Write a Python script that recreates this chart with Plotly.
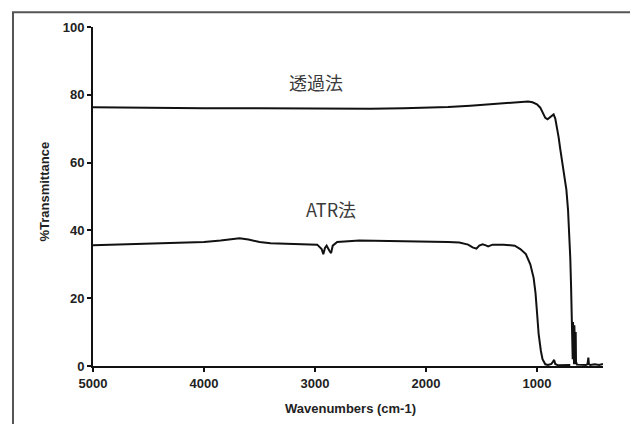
import plotly.graph_objects as go

# 透過法 (transmission) spectrum: wavenumber (cm-1) and %T
trans_wn = [5000, 4800, 4500, 4000, 3500, 3000, 2500, 2200, 2000, 1800, 1600, 1400, 1250, 1150,
            1080, 1040, 1000, 970, 945, 925, 905, 885, 865, 850, 835, 820, 805, 790, 770, 750,
            735, 720, 710, 700, 693, 686, 681, 678, 675, 672, 669, 666, 663, 660, 657, 654, 651,
            648, 645, 640, 600, 560, 545, 537, 532, 520, 480, 440, 405]
trans_t = [76.3, 76.2, 76.1, 76.0, 76.0, 75.9, 75.9, 76.0, 76.1, 76.4, 76.8, 77.3, 77.7, 77.9,
           78.0, 77.8, 77.2, 76.2, 74.5, 73.2, 72.8, 73.3, 74.0, 74.2, 73.0, 70.5, 67.5, 64.0, 60.0, 56.0,
           52.0, 46.0, 40.0, 32.0, 24.0, 16.0, 12.5, 2.0, 13.0, 1.0, 12.5, 0.5, 12.0, 0.5, 11.5, 0.5, 10.0,
           0.5, 1.0, 0.4, 0.3, 0.3, 0.5, 2.5, 0.6, 0.3, 0.5, 0.3, 0.6]

# ATR法 spectrum
atr_wn = [5000, 4800, 4600, 4400, 4200, 4000, 3850, 3750, 3680, 3600, 3500, 3400, 3200, 3050,
          2980, 2940, 2925, 2910, 2895, 2870, 2855, 2840, 2800, 2600, 2400, 2200, 2000, 1800,
          1700, 1620, 1580, 1545, 1520, 1490, 1460, 1440, 1400, 1300, 1200, 1150, 1100, 1060,
          1030, 1013, 1000, 985, 965, 950, 925, 900, 870, 855, 845, 835, 810, 700]
atr_t = [35.6, 35.8, 36.1, 36.3, 36.5, 36.6, 37.0, 37.5, 37.7, 37.3, 36.6, 36.2, 36.0, 36.0,
         35.8, 34.5, 33.0, 34.8, 35.5, 34.0, 33.3, 35.5, 36.6, 37.0, 36.9, 37.0, 36.9, 36.6,
         36.4, 35.8, 35.0, 34.6, 35.5, 35.9, 35.6, 35.3, 35.8, 35.8, 35.5, 34.5, 33.0, 30.0,
         26.0, 21.5, 16.0, 9.5, 4.5, 2.0, 0.5, 0.3, 0.6, 1.6, 1.8, 0.6, 0.2, 0.3]

x_ticks = [5000, 4000, 3000, 2000, 1000]
y_ticks = [0, 20, 40, 60, 80, 100]
labels = ["透過法", "ATR法"]
x_title = "Wavenumbers (cm-1)"
y_title = "%Transmittance"

# page body has an 8px margin, so the figure is drawn 8px in from the window corner
OFF = 8
W, H = 638 - OFF, 424 - OFF
L, R, T, B = 93 - OFF, 35, 24 - OFF, 58
pw, ph = W - L - R, H - T - B

def px(x):
    return (x - OFF - L) / pw

def py(y):
    return (H - B - (y - OFF)) / ph

fig = go.Figure()
for wn, t in [(trans_wn, trans_t), (atr_wn, atr_t)]:
    fig.add_trace(go.Scatter(x=wn, y=t, mode="lines",
                             line=dict(color="#111111", width=2), showlegend=False))

tickfont = dict(family="Liberation Sans, Arial, sans-serif", size=13, color="#222222", weight="bold")
fig.update_layout(
    width=W, height=H,
    margin=dict(l=L, r=R, t=T, b=B),
    paper_bgcolor="white", plot_bgcolor="white",
    xaxis=dict(range=[5000, 405], tickvals=x_ticks, ticks="outside", ticklen=4, tickwidth=1.5,
               tickcolor="#111", showline=True, linecolor="#111", linewidth=2, showgrid=False,
               zeroline=False, tickfont=tickfont),
    yaxis=dict(range=[0, 100], tickvals=y_ticks, ticks="outside", ticklen=4, tickwidth=1.5,
               tickcolor="#111", showline=True, linecolor="#111", linewidth=2, showgrid=False,
               zeroline=False, tickfont=tickfont),
)

def note(text, x, y, font, angle=0):
    fig.add_annotation(text=text, xref="paper", yref="paper", x=px(x), y=py(y),
                       xanchor="center", yanchor="middle", textangle=angle,
                       showarrow=False, font=font)

note(y_title, 45, 190, tickfont, angle=-90)
note(x_title, 350, 409, tickfont)
cjk = dict(family="Noto Sans CJK JP, sans-serif", size=18, color="#3a3a3a")
note(labels[0], 316, 79, cjk)
note(labels[1], 331, 208, cjk)

fig.add_shape(type="rect", xref="paper", yref="paper",
              x0=px(13), x1=px(631), y0=py(430), y1=py(9),
              line=dict(color="#555555", width=2), layer="above")

fig.write_html("out.html")
